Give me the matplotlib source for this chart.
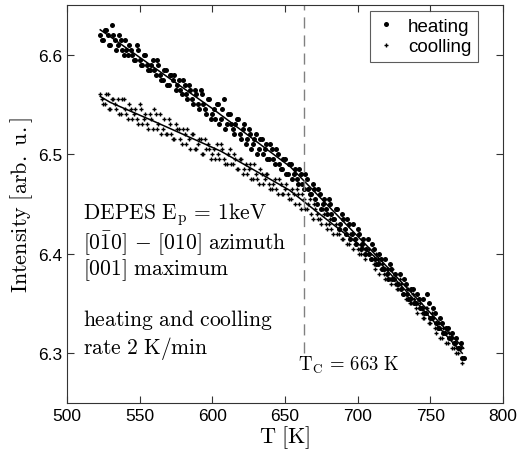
import matplotlib
matplotlib.use("Agg")
import matplotlib.pyplot as plt

plt.rcParams["font.family"] = ["Liberation Sans", "DejaVu Sans"]
plt.rcParams["mathtext.fontset"] = "cm"

# heating run (measured points), odd then even temperatures
T_heat = [523, 525, 527, 529, 531, 533, 535, 537, 539, 541, 543, 545, 547, 549, 551, 553,
          555, 557, 559, 561, 563, 565, 567, 569, 571, 573, 575, 577, 579, 581, 583, 585,
          587, 589, 591, 593, 595, 597, 599, 601, 603, 605, 607, 609, 611, 613, 615, 617,
          619, 621, 623, 625, 627, 629, 631, 633, 635, 637, 639, 641, 643, 645, 647, 649,
          651, 653, 655, 657, 659, 661, 663, 665, 667, 669, 671, 673, 675, 677, 679, 681,
          683, 685, 687, 689, 691, 693, 695, 697, 699, 701, 703, 705, 707, 709, 711, 713,
          715, 717, 719, 721, 723, 725, 727, 729, 731, 733, 735, 737, 739, 741, 743, 745,
          747, 749, 751, 753, 755, 757, 759, 761, 763, 765, 767, 769, 771, 773,
          524, 526, 528, 530, 532, 534, 536, 538, 540, 542, 544, 546, 548, 550, 552, 554,
          556, 558, 560, 562, 564, 566, 568, 570, 572, 574, 576, 578, 580, 582, 584, 586,
          588, 590, 592, 594, 596, 598, 600, 602, 604, 606, 608, 610, 612, 614, 616, 618,
          620, 622, 624, 626, 628, 630, 632, 634, 636, 638, 640, 642, 644, 646, 648, 650,
          652, 654, 656, 658, 660, 662, 664, 666, 668, 670, 672, 674, 676, 678, 680, 682,
          684, 686, 688, 690, 692, 694, 696, 698, 700, 702, 704, 706, 708, 710, 712, 714,
          716, 718, 720, 722, 724, 726, 728, 730, 732, 734, 736, 738, 740, 742, 744, 746,
          748, 750, 752, 754, 756, 758, 760, 762, 764, 766, 768, 770, 772]
I_heat = [6.620, 6.615, 6.625, 6.610, 6.630, 6.615, 6.610, 6.615, 6.600, 6.605, 6.610, 6.600,
          6.595, 6.605, 6.590, 6.600, 6.590, 6.585, 6.595, 6.580, 6.590, 6.575, 6.585, 6.570,
          6.580, 6.575, 6.565, 6.575, 6.560, 6.570, 6.555, 6.565, 6.550, 6.560, 6.545, 6.560,
          6.545, 6.555, 6.535, 6.545, 6.550, 6.530, 6.545, 6.525, 6.540, 6.530, 6.520, 6.535,
          6.520, 6.525, 6.510, 6.525, 6.505, 6.515, 6.500, 6.515, 6.500, 6.510, 6.495, 6.505,
          6.490, 6.500, 6.485, 6.495, 6.480, 6.490, 6.475, 6.485, 6.470, 6.480, 6.465, 6.475,
          6.460, 6.470, 6.455, 6.465, 6.445, 6.455, 6.440, 6.450, 6.435, 6.445, 6.425, 6.440,
          6.425, 6.435, 6.415, 6.430, 6.410, 6.420, 6.410, 6.400, 6.415, 6.395, 6.405, 6.390,
          6.400, 6.385, 6.395, 6.375, 6.385, 6.375, 6.370, 6.380, 6.360, 6.370, 6.355, 6.365,
          6.350, 6.360, 6.345, 6.355, 6.340, 6.350, 6.335, 6.340, 6.325, 6.335, 6.320, 6.325,
          6.315, 6.320, 6.310, 6.305, 6.310, 6.295,
          6.615, 6.625, 6.620, 6.610, 6.620, 6.605, 6.620, 6.605, 6.615, 6.600, 6.605, 6.595,
          6.610, 6.595, 6.590, 6.600, 6.585, 6.590, 6.585, 6.595, 6.580, 6.575, 6.585, 6.570,
          6.580, 6.580, 6.570, 6.565, 6.575, 6.560, 6.570, 6.555, 6.565, 6.550, 6.565, 6.550,
          6.540, 6.555, 6.540, 6.535, 6.550, 6.535, 6.555, 6.530, 6.540, 6.525, 6.530, 6.535,
          6.515, 6.530, 6.515, 6.520, 6.510, 6.520, 6.505, 6.515, 6.505, 6.495, 6.510, 6.495,
          6.505, 6.490, 6.485, 6.495, 6.480, 6.490, 6.480, 6.475, 6.485, 6.470, 6.480, 6.465,
          6.460, 6.465, 6.450, 6.460, 6.450, 6.445, 6.455, 6.440, 6.435, 6.445, 6.430, 6.435,
          6.420, 6.430, 6.420, 6.415, 6.425, 6.405, 6.415, 6.405, 6.400, 6.410, 6.395, 6.390,
          6.395, 6.385, 6.380, 6.390, 6.375, 6.380, 6.370, 6.365, 6.375, 6.360, 6.355, 6.365,
          6.350, 6.355, 6.345, 6.340, 6.360, 6.335, 6.345, 6.330, 6.325, 6.330, 6.320, 6.325,
          6.315, 6.310, 6.315, 6.305, 6.295]

# cooling run (measured points), odd then even temperatures
T_cool = [523, 525, 527, 529, 531, 533, 535, 537, 539, 541, 543, 545, 547, 549, 551, 553,
          555, 557, 559, 561, 563, 565, 567, 569, 571, 573, 575, 577, 579, 581, 583, 585,
          587, 589, 591, 593, 595, 597, 599, 601, 603, 605, 607, 609, 611, 613, 615, 617,
          619, 621, 623, 625, 627, 629, 631, 633, 635, 637, 639, 641, 643, 645, 647, 649,
          651, 653, 655, 657, 659, 661, 663, 665, 667, 669, 671, 673, 675, 677, 679, 681,
          683, 685, 687, 689, 691, 693, 695, 697, 699, 701, 703, 705, 707, 709, 711, 713,
          715, 717, 719, 721, 723, 725, 727, 729, 731, 733, 735, 737, 739, 741, 743, 745,
          747, 749, 751, 753, 755, 757, 759, 761, 763, 765, 767, 769, 771, 773,
          524, 526, 528, 530, 532, 534, 536, 538, 540, 542, 544, 546, 548, 550, 552, 554,
          556, 558, 560, 562, 564, 566, 568, 570, 572, 574, 576, 578, 580, 582, 584, 586,
          588, 590, 592, 594, 596, 598, 600, 602, 604, 606, 608, 610, 612, 614, 616, 618,
          620, 622, 624, 626, 628, 630, 632, 634, 636, 638, 640, 642, 644, 646, 648, 650,
          652, 654, 656, 658, 660, 662, 664, 666, 668, 670, 672, 674, 676, 678, 680, 682,
          684, 686, 688, 690, 692, 694, 696, 698, 700, 702, 704, 706, 708, 710, 712, 714,
          716, 718, 720, 722, 724, 726, 728, 730, 732, 734, 736, 738, 740, 742, 744, 746,
          748, 750, 752, 754, 756, 758, 760, 762, 764, 766, 768, 770, 772]
I_cool = [6.560, 6.550, 6.560, 6.545, 6.555, 6.550, 6.555, 6.540, 6.555, 6.540, 6.550, 6.535,
          6.545, 6.530, 6.545, 6.535, 6.530, 6.540, 6.525, 6.540, 6.530, 6.520, 6.535, 6.520,
          6.530, 6.515, 6.530, 6.525, 6.510, 6.520, 6.525, 6.505, 6.520, 6.505, 6.515, 6.500,
          6.515, 6.510, 6.495, 6.505, 6.510, 6.495, 6.505, 6.490, 6.500, 6.490, 6.500, 6.485,
          6.495, 6.480, 6.490, 6.485, 6.475, 6.490, 6.475, 6.485, 6.470, 6.480, 6.470, 6.465,
          6.475, 6.460, 6.470, 6.460, 6.470, 6.455, 6.465, 6.450, 6.460, 6.445, 6.455, 6.445,
          6.455, 6.435, 6.445, 6.435, 6.430, 6.440, 6.425, 6.435, 6.420, 6.430, 6.420, 6.415,
          6.425, 6.410, 6.420, 6.405, 6.415, 6.400, 6.410, 6.395, 6.400, 6.395, 6.390, 6.400,
          6.380, 6.390, 6.375, 6.385, 6.370, 6.375, 6.365, 6.375, 6.360, 6.355, 6.365, 6.350,
          6.355, 6.340, 6.350, 6.335, 6.345, 6.330, 6.340, 6.325, 6.330, 6.315, 6.325, 6.310,
          6.320, 6.305, 6.310, 6.300, 6.305, 6.295,
          6.555, 6.550, 6.560, 6.545, 6.555, 6.545, 6.540, 6.555, 6.545, 6.535, 6.545, 6.540,
          6.535, 6.550, 6.530, 6.540, 6.525, 6.535, 6.545, 6.525, 6.540, 6.525, 6.520, 6.535,
          6.520, 6.515, 6.525, 6.515, 6.525, 6.510, 6.515, 6.520, 6.505, 6.510, 6.515, 6.500,
          6.505, 6.505, 6.500, 6.495, 6.500, 6.510, 6.495, 6.490, 6.505, 6.490, 6.495, 6.485,
          6.495, 6.485, 6.480, 6.490, 6.475, 6.480, 6.470, 6.480, 6.475, 6.480, 6.465, 6.470,
          6.465, 6.475, 6.460, 6.465, 6.460, 6.455, 6.460, 6.465, 6.450, 6.460, 6.445, 6.450,
          6.440, 6.450, 6.440, 6.435, 6.445, 6.430, 6.430, 6.425, 6.435, 6.420, 6.425, 6.415,
          6.420, 6.410, 6.420, 6.410, 6.405, 6.400, 6.410, 6.400, 6.405, 6.395, 6.385, 6.395,
          6.385, 6.380, 6.385, 6.375, 6.385, 6.370, 6.365, 6.370, 6.360, 6.365, 6.350, 6.360,
          6.345, 6.355, 6.340, 6.335, 6.345, 6.330, 6.335, 6.320, 6.330, 6.315, 6.320, 6.310,
          6.315, 6.305, 6.300, 6.305, 6.290]

# fitted curves
T_fit_heat = [523, 530, 600, 654, 715, 773]
I_fit_heat = [6.625, 6.618, 6.546, 6.487, 6.395, 6.305]
T_fit_cool = [523, 530, 560, 606, 653, 680, 711, 740, 772]
I_fit_cool = [6.558, 6.552, 6.533, 6.503, 6.464, 6.433, 6.398, 6.352, 6.300]

T_c = 663

fig = plt.figure(figsize=(5.18, 4.56), dpi=100)
ax = fig.add_axes([0.129, 0.114, 0.842, 0.873])

ax.plot(T_heat, I_heat, "o", color="black", ms=3.6, mew=0, label="heating")
ax.plot(T_cool, I_cool, "+", color="black", ms=3.0, mew=1.0, label="coolling")
ax.plot(T_fit_heat, I_fit_heat, "-", color="black", lw=1.1)
ax.plot(T_fit_cool, I_fit_cool, "-", color="black", lw=1.1)

ax.plot([T_c, T_c], [6.30, 6.65], color="#808080", lw=1.0, dashes=(8, 5))

ax.set_xlim(500, 800)
ax.set_ylim(6.25, 6.65)
ax.set_xticks([500, 550, 600, 650, 700, 750, 800])
ax.set_yticks([6.3, 6.4, 6.5, 6.6])
ax.tick_params(direction="in", top=True, right=True, length=5, labelsize=12.5, color="#333333")
for s in ax.spines.values():
    s.set_color("#333333")

ax.set_xlabel(r"$\mathrm{T\ [K]}$", fontsize=16, labelpad=0)
ax.set_ylabel(r"$\mathrm{Intensity\ [arb.\ u.]}$", fontsize=16, labelpad=2)

txt = dict(fontsize=15.5, va="baseline", ha="left", color="black")
ax.text(511, 6.436, r"$\mathrm{DEPES\ E_p}\,=\,1\mathrm{keV}$", **txt)
ax.text(511, 6.405, r"$[0\bar{1}0]\,-\,[010]\ \mathrm{azimuth}$", **txt)
ax.text(511, 6.380, r"$[001]\ \mathrm{maximum}$", **txt)
ax.text(511, 6.328, r"$\mathrm{heating\ and\ coolling}$", **txt)
ax.text(511, 6.300, r"$\mathrm{rate\ 2\ K/min}$", **txt)
ax.text(659, 6.283, r"$\mathrm{T_C}\,=\,663\ \mathrm{K}$", fontsize=13.5, va="baseline", ha="left")

leg = ax.legend(loc="upper right", bbox_to_anchor=(0.943, 0.985), borderaxespad=0,
                fontsize=13.5, handletextpad=0.7, handlelength=1.0, fancybox=False,
                edgecolor="#333333", borderpad=0.35, labelspacing=0.2)
leg.get_frame().set_linewidth(0.8)

fig.savefig("out.png", dpi=100)
